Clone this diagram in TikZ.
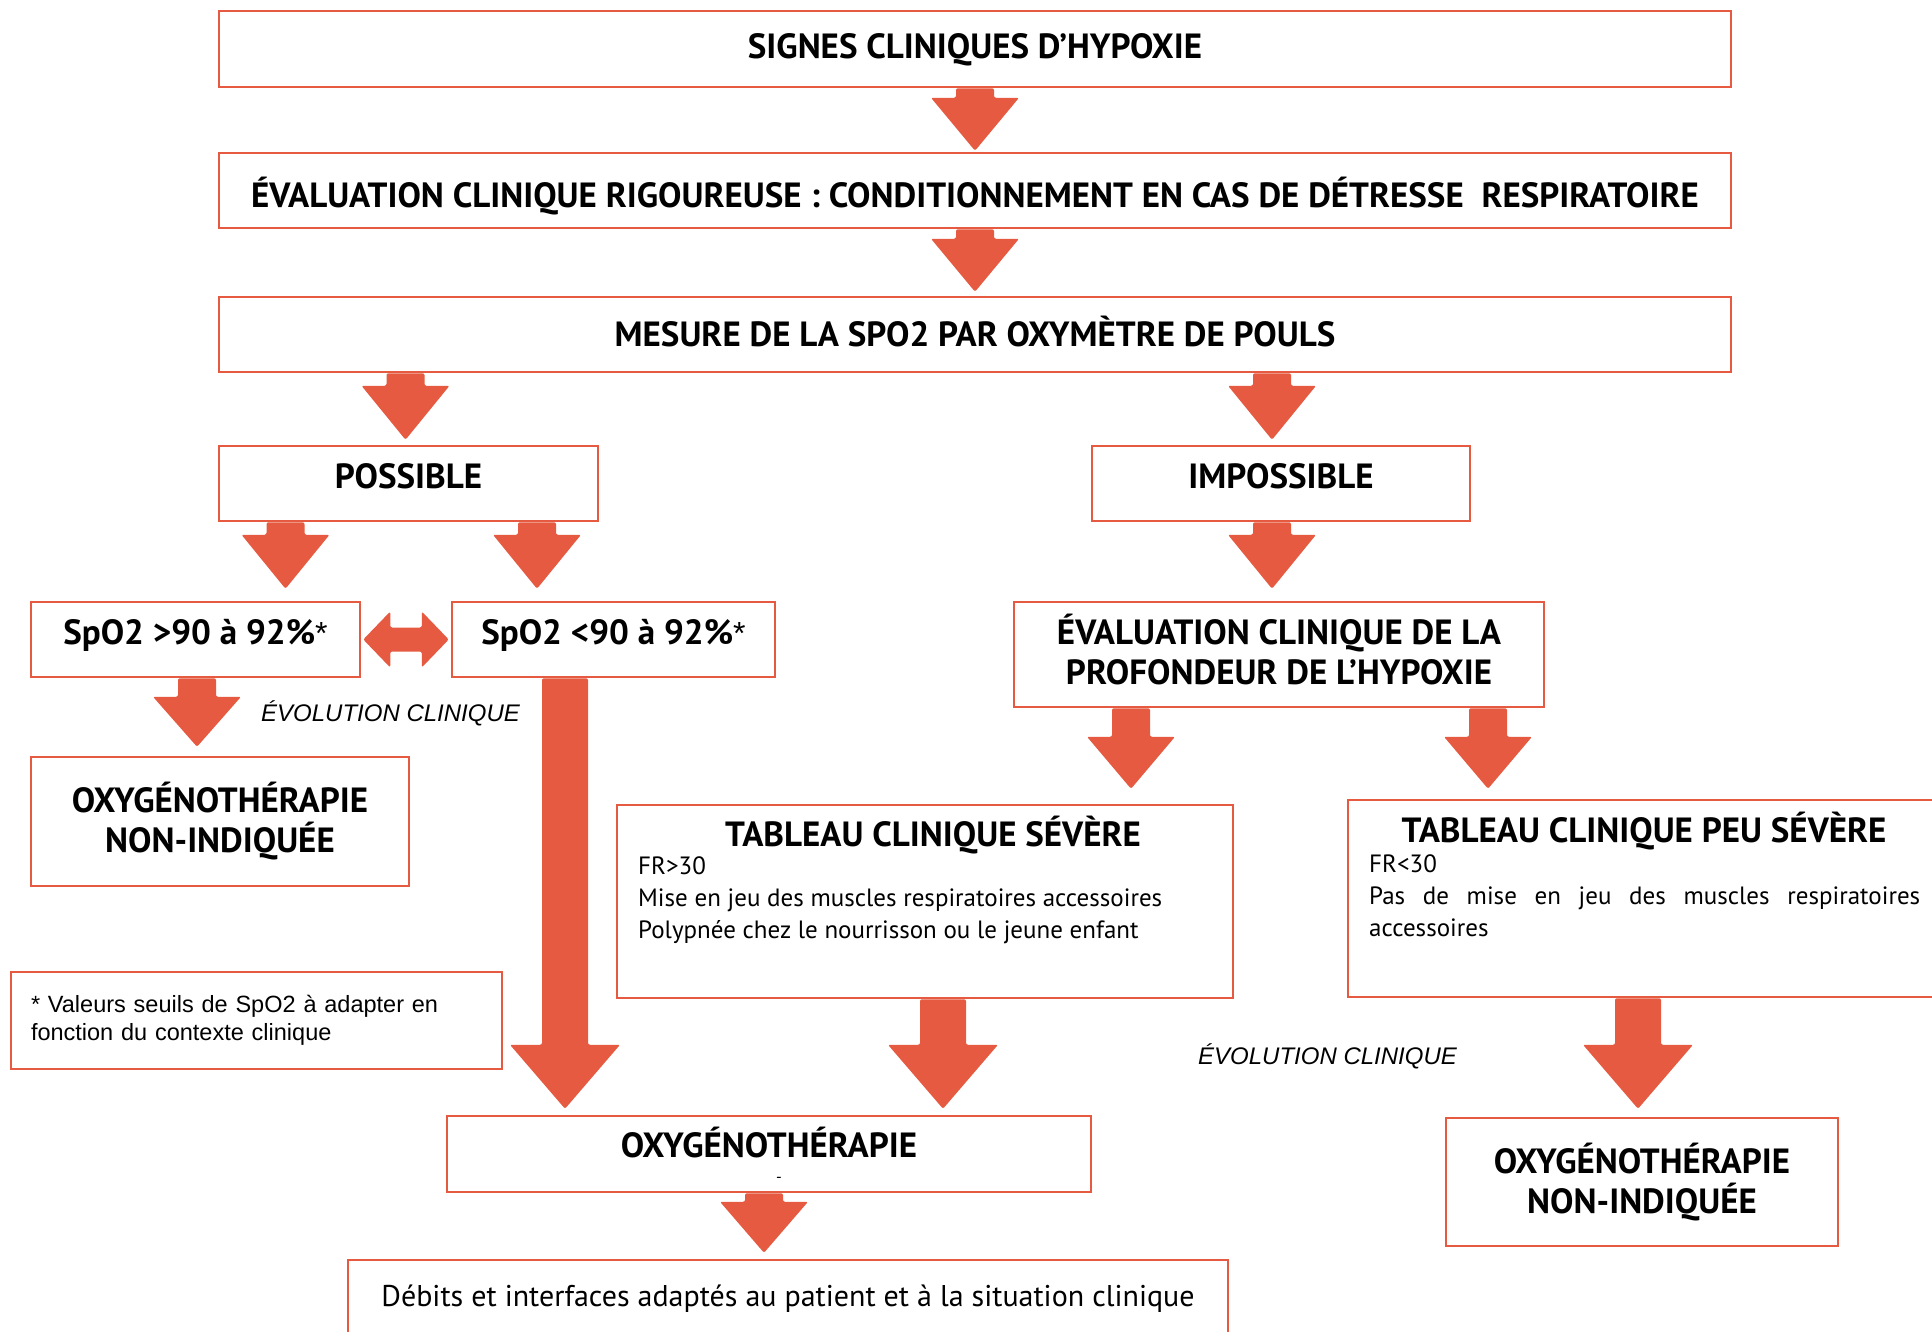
\documentclass[tikz,border=0pt]{standalone}
\usepackage{fontspec}
\setmainfont{PT Sans}
\newfontfamily\arialf{Liberation Sans}
\usetikzlibrary{calc}
\definecolor{bred}{RGB}{229,90,64}
\pgfdeclarelayer{bg}
\pgfsetlayers{bg,main}
% #1 shaft half width, #2 head half width, #3 head length, #4 start, #5 tip
\newcommand{\blockarrow}[5]{%
  \fill[bred, rounded corners=2pt] let \p1=(#4), \p2=(#5) in
   (\x1-#1pt,\y1) -- (\x1-#1pt,\y2+#3pt) -- (\x1-#2pt,\y2+#3pt) -- (\x1,\y2)
   -- (\x1+#2pt,\y2+#3pt) -- (\x1+#1pt,\y2+#3pt) -- (\x1+#1pt,\y1) -- cycle;}
\newcommand{\astk}{{\arialf\mdseries\fontsize{32}{32}\selectfont*}}
\tikzset{
  box/.style={draw=bred, line width=2.5pt, fill=white, inner sep=0pt, align=center},
  ttl/.style={font=\fontsize{35}{40}\selectfont\bfseries},
  one/.style={text height=24pt, text depth=0pt},
  body/.style={font=\fontsize{25}{32}\selectfont, inner sep=0pt},
  evo/.style={font=\arialf\itshape\fontsize{24}{28}\selectfont, inner sep=0pt, anchor=west},
}
\begin{document}
\begin{tikzpicture}[x=1pt,y=-1pt]
\useasboundingbox (0,0) rectangle (1932,1331);
\clip (0,0) rectangle (1932,1331);
% boxes
\node[box, ttl, one, minimum width=1512pt, minimum height=76pt] (sig) at (975,49) {\raisebox{3pt}{SIGNES CLINIQUES D’HYPOXIE}};
\node[box, ttl, one, minimum width=1512pt, minimum height=75pt] (eval) at (975,190.5) {\raisebox{-4.5pt}{ÉVALUATION CLINIQUE RIGOUREUSE : CONDITIONNEMENT EN CAS DE DÉTRESSE~ RESPIRATOIRE}};
\node[box, ttl, one, minimum width=1512pt, minimum height=75pt] (mes) at (975,334.5) {MESURE DE LA SPO2 PAR OXYMÈTRE DE POULS};
\node[box, ttl, one, minimum width=379pt, minimum height=75pt] (poss) at (408.5,483.5) {\raisebox{7.5pt}{POSSIBLE}};
\node[box, ttl, one, minimum width=378pt, minimum height=75pt] (imp) at (1281,483.5) {\raisebox{7.5pt}{IMPOSSIBLE}};
\node[box, ttl, one, minimum width=329pt, minimum height=75pt] (spohi) at (195.5,639.5) {\raisebox{7.5pt}{SpO2 >90 à 92\%\astk}};
\node[box, ttl, one, minimum width=323pt, minimum height=75pt] (spolo) at (613.5,639.5) {\raisebox{7.5pt}{SpO2 <90 à 92\%\astk}};
\node[box, minimum width=530pt, minimum height=105pt] (prof) at (1279,654.5) {};
\node[ttl, align=center, inner sep=0pt] (proft) at (1279,649.5) {ÉVALUATION CLINIQUE DE LA\\PROFONDEUR DE L’HYPOXIE};
\node[box, ttl, minimum width=378pt, minimum height=129pt] (nonL) at (220,821.5) {OXYGÉNOTHÉRAPIE\\NON-INDIQUÉE};
\node[box, minimum width=616pt, minimum height=193pt] (sev) at (925,901.5) {};
\node[box, minimum width=600pt, minimum height=197pt] (peu) at (1648,898.5) {};
\node[box, ttl, one, minimum width=644pt, minimum height=76pt] (oxy) at (769,1154) {\raisebox{9pt}{OXYGÉNOTHÉRAPIE}};
\node[box, font=\fontsize{30}{34}\selectfont, text height=21pt, text depth=0pt, minimum width=880pt, minimum height=80pt] (deb) at (788,1300) {\raisebox{4pt}{Débits et interfaces adaptés au patient et à la situation clinique}};
\node[box, ttl, minimum width=392pt, minimum height=128pt] (nonR) at (1642,1182) {OXYGÉNOTHÉRAPIE\\NON-INDIQUÉE};
\node[box, font=\arialf\fontsize{23.5}{28}\selectfont, align=left, text width=451pt, minimum width=491pt, minimum height=97pt] (foot) at (256.5,1020.5) {* Valeurs seuils de SpO2 à adapter en\\fonction du contexte clinique};
% texts inside the two tables
\node[ttl, one, inner sep=0pt] (sevt) at (933,834) {TABLEAU CLINIQUE SÉVÈRE};
\node[body, anchor=west, align=left] (sevb) at (638,900) {FR>30\\Mise en jeu des muscles respiratoires accessoires\\Polypnée chez le nourrisson ou le jeune enfant};
\node[ttl, one, inner sep=0pt] (peut) at (1644,830) {TABLEAU CLINIQUE PEU SÉVÈRE};
\node[body, anchor=west, align=left] (peub) at (1369,896) {FR<30\\\makebox[551pt][s]{Pas de mise en jeu des muscles respiratoires}\\accessoires};
\node[font=\fontsize{16}{16}\selectfont, inner sep=0pt] (dash) at (779,1180) {-};
% free labels
\node[evo] (evo1) at (261,713) {ÉVOLUTION CLINIQUE};
\node[evo] (evo2) at (1198,1056) {ÉVOLUTION CLINIQUE};
% block arrows
\begin{pgfonlayer}{bg}
\blockarrow{19}{44}{53}{sig.south}{[yshift=1pt]eval.north}
\blockarrow{19}{44}{53}{eval.south}{[yshift=4pt]mes.north}
\blockarrow{19}{44}{54}{[xshift=-3pt]mes.south -| poss.north}{[yshift=5pt]poss.north}
\blockarrow{19}{44}{54}{[xshift=-9pt]mes.south -| imp.north}{[yshift=5pt]imp.north}
\blockarrow{19}{44}{54}{[xshift=-123pt]poss.south}{[yshift=12pt]spohi.north}
\blockarrow{19}{44}{54}{[xshift=128.5pt]poss.south}{[yshift=12pt]spolo.north}
\blockarrow{19}{44}{54}{[xshift=-9pt]imp.south}{[yshift=12pt]prof.north}
\blockarrow{19}{44}{50}{[xshift=1.5pt]spohi.south}{[yshift=9pt]nonL.north}
\blockarrow{23}{55}{64}{[xshift=-48.5pt]spolo.south}{[yshift=6pt]oxy.north}
\blockarrow{19}{44}{52}{[xshift=-148pt]prof.south}{[yshift=15pt]sev.north}
\blockarrow{19}{44}{52}{[xshift=209pt]prof.south}{[yshift=10pt]peu.north}
\blockarrow{23}{55}{64}{[xshift=18pt]sev.south}{[yshift=6pt]oxy.north}
\blockarrow{23}{55}{64}{[xshift=-10pt]peu.south}{[yshift=8pt]nonR.north}
\blockarrow{19}{44}{51}{[xshift=-5pt]oxy.south}{[yshift=6pt]deb.north}
% double arrow between the SpO2 boxes
\fill[bred, rounded corners=2pt] let \p1=(spohi.east), \p2=(spolo.west) in
  (\x1+2pt,\y1) -- (\x1+29pt,\y1+28pt) -- (\x1+29pt,\y1+12pt) -- (\x2-29pt,\y1+12pt)
  -- (\x2-29pt,\y1+28pt) -- (\x2-2pt,\y1) -- (\x2-29pt,\y1-28pt) -- (\x2-29pt,\y1-12pt)
  -- (\x1+29pt,\y1-12pt) -- (\x1+29pt,\y1-28pt) -- cycle;
\end{pgfonlayer}
\end{tikzpicture}
\end{document}
